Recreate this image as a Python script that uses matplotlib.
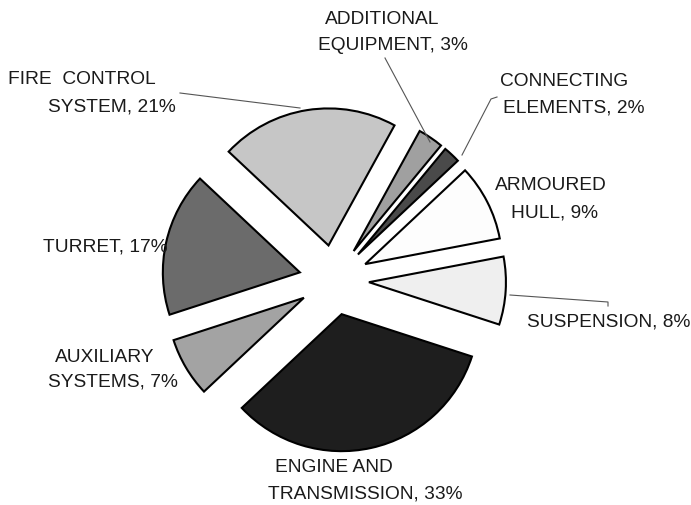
import matplotlib
matplotlib.use("Agg")
from matplotlib import pyplot as plt

# Cost shares of the vehicle sub-systems (counter-clockwise from suspension)
parts = ["SUSPENSION", "ARMOURED HULL", "CONNECTING ELEMENTS", "ADDITIONAL EQUIPMENT",
         "FIRE CONTROL SYSTEM", "TURRET", "AUXILIARY SYSTEMS", "ENGINE AND TRANSMISSION"]
shares = [8, 9, 2, 3, 21, 17, 7, 33]
greys = ["#efefef", "#fdfdfd", "#4a4a4a", "#a0a0a0",
         "#c6c6c6", "#6b6b6b", "#a3a3a3", "#1e1e1e"]

# label lines, written as they appear on the picture
label_lines = [
    ["SUSPENSION, 8%"],
    ["ARMOURED", "HULL, 9%"],
    ["CONNECTING", "ELEMENTS, 2%"],
    ["ADDITIONAL", "EQUIPMENT, 3%"],
    ["FIRE  CONTROL", "SYSTEM, 21%"],
    ["TURRET, 17%"],
    ["AUXILIARY", "SYSTEMS, 7%"],
    ["ENGINE AND", "TRANSMISSION, 33%"],
]

W, H = 691, 505

def py(y):
    # picture rows go down, axes go up
    return H - y

plt.rcParams['font.family'] = ['Liberation Sans', 'DejaVu Sans']

fig = plt.figure(figsize=(W / 100, H / 100), dpi=100)
ax = fig.add_axes([0, 0, 1, 1])

# explode is in data units here (radius is in pixels)
ax.pie(shares, colors=greys, startangle=-18, counterclock=True,
       explode=[35] * len(shares), radius=137, center=(334, py(280)),
       wedgeprops=dict(edgecolor="black", linewidth=1.5))

ax.set_xlim(0, W)
ax.set_ylim(0, H)
ax.set_aspect("equal")
ax.axis("off")

# text placement (left x, centre y of each line, in picture pixels)
label_pos = [
    [(527, 322)],
    [(495, 186), (511, 213)],
    [(500, 82), (503, 108)],
    [(325, 20), (318, 46)],
    [(8, 80), (48, 107)],
    [(43, 247)],
    [(55, 357), (48, 382)],
    [(275, 468), (268, 494)],
]
for lines, spots in zip(label_lines, label_pos):
    for txt, (x, y) in zip(lines, spots):
        ax.text(x, py(y), txt, fontsize=13.8, ha="left", va="center", color="#1a1a1a")

# leader lines
leaders = [
    [(180, 93), (300, 108)],
    [(385, 58), (430, 142)],
    [(497, 97), (491, 99), (462, 155)],
    [(510, 295), (608, 302), (608, 306)],
]
for pts in leaders:
    ax.plot([p[0] for p in pts], [py(p[1]) for p in pts], color="#555555", lw=0.8)

fig.savefig("out.png", dpi=100)
